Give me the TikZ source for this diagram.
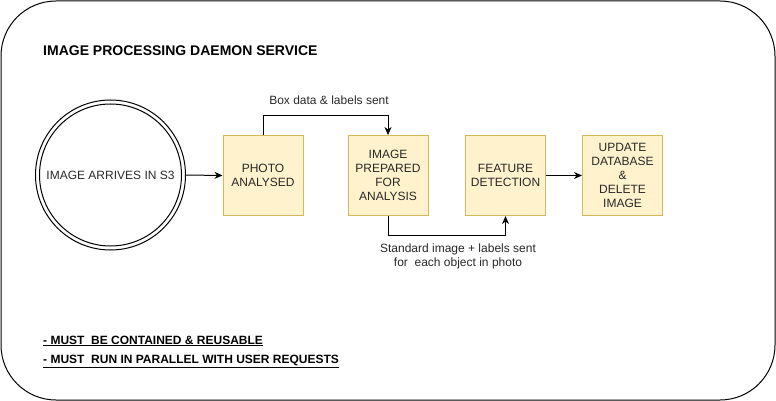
\documentclass[tikz,border=0pt]{standalone}
\usepackage{fontspec}
\setmainfont{Liberation Sans}
\usetikzlibrary{arrows.meta}
\begin{document}
\begin{tikzpicture}[x=1pt,y=-1pt,
  procbox/.style={draw={rgb,255:red,214;green,182;blue,86}, fill={rgb,255:red,255;green,242;blue,204}, line width=1pt, minimum width=80pt, minimum height=80pt, inner sep=0pt, align=center, font=\fontsize{12}{14}\selectfont, text={rgb,255:red,40;green,40;blue,40}},
  conn/.style={line width=1pt, -{Stealth[length=8pt,width=7pt,inset=2.5pt]}},
  lbl/.style={font=\fontsize{12}{14}\selectfont, text={rgb,255:red,40;green,40;blue,40}, align=center, inner sep=0pt},
  note/.style={font=\bfseries\fontsize{12}{14}\selectfont, anchor=west, inner sep=0pt}
]
\useasboundingbox (0,0) rectangle (776,401);
\draw[line width=1pt, rounded corners=55pt] (1,1) rectangle (775,400);

\node[font=\bfseries\fontsize{14}{16}\selectfont, anchor=west, inner sep=0pt] (title) at (43,51) {IMAGE PROCESSING DAEMON SERVICE};

\node[circle, draw, line width=1pt, minimum size=150pt, inner sep=0pt] (s3) at (110.5,175) {};
\node[circle, draw, line width=1pt, minimum size=142pt, inner sep=0pt, font=\fontsize{12}{14}\selectfont, text={rgb,255:red,40;green,40;blue,40}] (s3in) at (110.5,175) {IMAGE ARRIVES IN S3};

\node[procbox] (photo) at (263,175.5) {PHOTO\\ANALYSED};
\node[procbox] (prep) at (388,175.5) {IMAGE\\PREPARED\\FOR\\ANALYSIS};
\node[procbox] (feat) at (505.5,175.5) {FEATURE\\DETECTION};
\node[procbox] (upd) at (622.5,175.5) {UPDATE\\DATABASE\\\&\\DELETE\\IMAGE};

\coordinate (t1) at (263,116);
\coordinate (t2) at (388,116);
\coordinate (b1) at (388,235);
\coordinate (b2) at (505.5,235);

\draw[conn] (s3.east) -- (photo.west);
\draw[conn] (photo.north) -- (t1) -- (t2) -- (prep.north);
\draw[conn] (prep.south) -- (b1) -- (b2) -- (feat.south);
\draw[conn] (feat.east) -- (upd.west);

\node[lbl] (lab1) at (329,100) {Box data \& labels sent};
\node[lbl] (lab2) at (458,256) {Standard image + labels sent\\for\ \ each object in photo};

\node[note] (n1) at (43,341) {\underline{- MUST\ \ BE CONTAINED \& REUSABLE}};
\node[note] (n2) at (43,361) {\underline{- MUST\ \ RUN IN PARALLEL WITH USER REQUESTS}};
\end{tikzpicture}
\end{document}
